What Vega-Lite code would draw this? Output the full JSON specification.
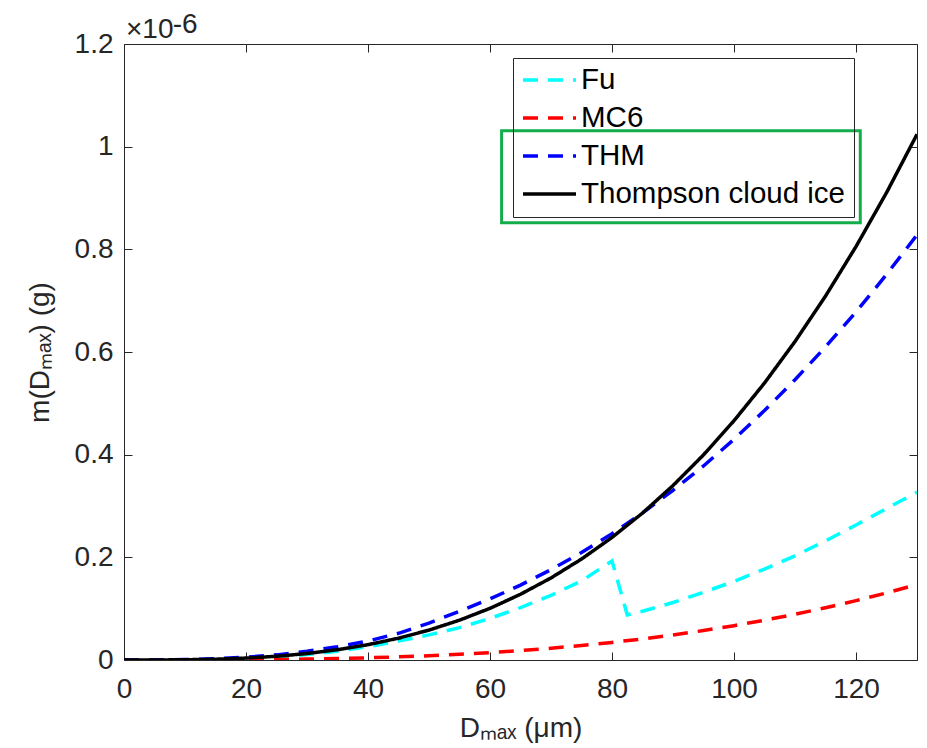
{
  "$schema": "https://vega.github.io/schema/vega-lite/v6.json",
  "width": 793,
  "height": 616,
  "autosize": {"type": "none"},
  "padding": {"left": 124, "top": 44, "right": 10, "bottom": 88},
  "background": "white",
  "title": {
    "text": "×10",
    "subtitle": "\u200d\u00a0\u00a0\u00a0\u00a0\u00a0\u00a0-6",
    "anchor": "start",
    "frame": "group",
    "offset": -19,
    "dx": 2,
    "fontSize": 28,
    "fontWeight": "normal",
    "font": "Liberation Sans",
    "color": "#262626",
    "subtitleFont": "Liberation Sans",
    "subtitleFontSize": 28,
    "subtitleColor": "#262626",
    "subtitlePadding": -33
  },
  "config": {
    "view": {"stroke": "#262626", "strokeWidth": 1},
    "axis": {
      "domain": false,
      "grid": false,
      "tickColor": "#262626",
      "tickSize": -8,
      "tickWidth": 1,
      "labelFont": "Liberation Sans",
      "labelFontSize": 28,
      "labelColor": "#262626",
      "titleFont": "Liberation Sans",
      "titleFontSize": 28,
      "titleFontWeight": "normal",
      "titleColor": "#262626"
    },
    "legend": {
      "orient": "none",
      "legendX": 389,
      "legendY": 14,
      "strokeColor": "#262626",
      "padding": 8,
      "symbolType": "stroke",
      "symbolSize": 2809,
      "symbolStrokeWidth": 3.5,
      "labelFont": "Liberation Sans",
      "labelFontSize": 29.5,
      "labelColor": "#000000",
      "labelOffset": 3,
      "labelLimit": 0,
      "rowPadding": 8,
      "clipHeight": 28
    }
  },
  "resolve": {"axis": {"x": "independent", "y": "independent"}},
  "layer": [
    {
      "data": {
        "values": [
          {"D": 0, "m": 0, "model": "Fu"},
          {"D": 5, "m": 0.00005, "model": "Fu"},
          {"D": 10, "m": 0.0004, "model": "Fu"},
          {"D": 15, "m": 0.0013, "model": "Fu"},
          {"D": 20, "m": 0.003, "model": "Fu"},
          {"D": 25, "m": 0.006, "model": "Fu"},
          {"D": 30, "m": 0.0105, "model": "Fu"},
          {"D": 35, "m": 0.017, "model": "Fu"},
          {"D": 40, "m": 0.026, "model": "Fu"},
          {"D": 45, "m": 0.037, "model": "Fu"},
          {"D": 50, "m": 0.049, "model": "Fu"},
          {"D": 55, "m": 0.063, "model": "Fu"},
          {"D": 60, "m": 0.081, "model": "Fu"},
          {"D": 65, "m": 0.102, "model": "Fu"},
          {"D": 70, "m": 0.126, "model": "Fu"},
          {"D": 75, "m": 0.154, "model": "Fu"},
          {"D": 80, "m": 0.193, "model": "Fu"},
          {"D": 82.5, "m": 0.088, "model": "Fu"},
          {"D": 85, "m": 0.095, "model": "Fu"},
          {"D": 90, "m": 0.112, "model": "Fu"},
          {"D": 95, "m": 0.132, "model": "Fu"},
          {"D": 100, "m": 0.153, "model": "Fu"},
          {"D": 105, "m": 0.177, "model": "Fu"},
          {"D": 110, "m": 0.203, "model": "Fu"},
          {"D": 115, "m": 0.232, "model": "Fu"},
          {"D": 120, "m": 0.263, "model": "Fu"},
          {"D": 125, "m": 0.295, "model": "Fu"},
          {"D": 130, "m": 0.327, "model": "Fu"},

          {"D": 0, "m": 0, "model": "MC6"},
          {"D": 5, "m": 0.0000084, "model": "MC6"},
          {"D": 10, "m": 0.000067, "model": "MC6"},
          {"D": 15, "m": 0.000226, "model": "MC6"},
          {"D": 20, "m": 0.000535, "model": "MC6"},
          {"D": 25, "m": 0.001045, "model": "MC6"},
          {"D": 30, "m": 0.001807, "model": "MC6"},
          {"D": 35, "m": 0.002869, "model": "MC6"},
          {"D": 40, "m": 0.004282, "model": "MC6"},
          {"D": 45, "m": 0.006097, "model": "MC6"},
          {"D": 50, "m": 0.008364, "model": "MC6"},
          {"D": 55, "m": 0.01113, "model": "MC6"},
          {"D": 60, "m": 0.01445, "model": "MC6"},
          {"D": 65, "m": 0.01838, "model": "MC6"},
          {"D": 70, "m": 0.02295, "model": "MC6"},
          {"D": 75, "m": 0.02823, "model": "MC6"},
          {"D": 80, "m": 0.03426, "model": "MC6"},
          {"D": 85, "m": 0.04109, "model": "MC6"},
          {"D": 90, "m": 0.04878, "model": "MC6"},
          {"D": 95, "m": 0.05737, "model": "MC6"},
          {"D": 100, "m": 0.06691, "model": "MC6"},
          {"D": 105, "m": 0.07746, "model": "MC6"},
          {"D": 110, "m": 0.08906, "model": "MC6"},
          {"D": 115, "m": 0.1018, "model": "MC6"},
          {"D": 120, "m": 0.1156, "model": "MC6"},
          {"D": 125, "m": 0.1307, "model": "MC6"},
          {"D": 130, "m": 0.147, "model": "MC6"},

          {"D": 0, "m": 0, "model": "THM"},
          {"D": 5, "m": 0.0001, "model": "THM"},
          {"D": 10, "m": 0.0009, "model": "THM"},
          {"D": 15, "m": 0.0025, "model": "THM"},
          {"D": 20, "m": 0.0055, "model": "THM"},
          {"D": 25, "m": 0.010, "model": "THM"},
          {"D": 30, "m": 0.017, "model": "THM"},
          {"D": 35, "m": 0.026, "model": "THM"},
          {"D": 40, "m": 0.037, "model": "THM"},
          {"D": 45, "m": 0.052, "model": "THM"},
          {"D": 50, "m": 0.072, "model": "THM"},
          {"D": 55, "m": 0.095, "model": "THM"},
          {"D": 60, "m": 0.119, "model": "THM"},
          {"D": 65, "m": 0.146, "model": "THM"},
          {"D": 70, "m": 0.176, "model": "THM"},
          {"D": 75, "m": 0.2095, "model": "THM"},
          {"D": 80, "m": 0.246, "model": "THM"},
          {"D": 85, "m": 0.2865, "model": "THM"},
          {"D": 90, "m": 0.3305, "model": "THM"},
          {"D": 95, "m": 0.378, "model": "THM"},
          {"D": 100, "m": 0.430, "model": "THM"},
          {"D": 105, "m": 0.486, "model": "THM"},
          {"D": 110, "m": 0.546, "model": "THM"},
          {"D": 115, "m": 0.610, "model": "THM"},
          {"D": 120, "m": 0.678, "model": "THM"},
          {"D": 125, "m": 0.751, "model": "THM"},
          {"D": 130, "m": 0.828, "model": "THM"},

          {"D": 0, "m": 0, "model": "Thompson cloud ice"},
          {"D": 5, "m": 0.0000583, "model": "Thompson cloud ice"},
          {"D": 10, "m": 0.000466, "model": "Thompson cloud ice"},
          {"D": 15, "m": 0.00157, "model": "Thompson cloud ice"},
          {"D": 20, "m": 0.00373, "model": "Thompson cloud ice"},
          {"D": 25, "m": 0.00728, "model": "Thompson cloud ice"},
          {"D": 30, "m": 0.01258, "model": "Thompson cloud ice"},
          {"D": 35, "m": 0.01998, "model": "Thompson cloud ice"},
          {"D": 40, "m": 0.02983, "model": "Thompson cloud ice"},
          {"D": 45, "m": 0.04247, "model": "Thompson cloud ice"},
          {"D": 50, "m": 0.05826, "model": "Thompson cloud ice"},
          {"D": 55, "m": 0.07754, "model": "Thompson cloud ice"},
          {"D": 60, "m": 0.10067, "model": "Thompson cloud ice"},
          {"D": 65, "m": 0.128, "model": "Thompson cloud ice"},
          {"D": 70, "m": 0.1599, "model": "Thompson cloud ice"},
          {"D": 75, "m": 0.1966, "model": "Thompson cloud ice"},
          {"D": 80, "m": 0.2387, "model": "Thompson cloud ice"},
          {"D": 85, "m": 0.2862, "model": "Thompson cloud ice"},
          {"D": 90, "m": 0.3398, "model": "Thompson cloud ice"},
          {"D": 95, "m": 0.3996, "model": "Thompson cloud ice"},
          {"D": 100, "m": 0.4661, "model": "Thompson cloud ice"},
          {"D": 105, "m": 0.5396, "model": "Thompson cloud ice"},
          {"D": 110, "m": 0.6204, "model": "Thompson cloud ice"},
          {"D": 115, "m": 0.7089, "model": "Thompson cloud ice"},
          {"D": 120, "m": 0.8054, "model": "Thompson cloud ice"},
          {"D": 125, "m": 0.9103, "model": "Thompson cloud ice"},
          {"D": 130, "m": 1.024, "model": "Thompson cloud ice"}
        ]
      },
      "mark": {"type": "line", "strokeWidth": 3.5, "clip": true},
      "encoding": {
        "x": {
          "field": "D",
          "type": "quantitative",
          "scale": {"domain": [0, 130], "nice": false, "zero": false},
          "axis": {
            "orient": "bottom",
            "values": [0, 20, 40, 60, 80, 100, 120],
            "labelPadding": 23,
            "labelFlush": false,
            "title": "Dₘₐₓ (μm)",
            "titlePadding": 11
          }
        },
        "y": {
          "field": "m",
          "type": "quantitative",
          "scale": {"domain": [0, 1.2], "nice": false},
          "axis": {
            "orient": "left",
            "values": [0, 0.2, 0.4, 0.6, 0.8, 1, 1.2],
            "format": ".1~f",
            "labelPadding": 19,
            "labelFlush": false,
            "title": "m(Dₘₐₓ) (g)",
            "titlePadding": 20
          }
        },
        "color": {
          "field": "model",
          "type": "nominal",
          "scale": {
            "domain": ["Fu", "MC6", "THM", "Thompson cloud ice"],
            "range": ["#00FFFF", "#FF0000", "#0000FF", "#000000"]
          },
          "legend": {"title": null}
        },
        "strokeDash": {
          "field": "model",
          "type": "nominal",
          "scale": {
            "domain": ["Fu", "MC6", "THM", "Thompson cloud ice"],
            "range": [[15, 10], [15, 10], [15, 10], [1, 0]]
          },
          "legend": {"title": null}
        }
      }
    },
    {
      "data": {"values": [{"x1": 61.9, "x2": 120.7, "y1": 1.031, "y2": 0.852}]},
      "mark": {"type": "rect", "filled": false, "stroke": "#13AD4B", "strokeWidth": 3},
      "encoding": {
        "x": {
          "field": "x1",
          "type": "quantitative",
          "axis": {"orient": "top", "values": [0, 20, 40, 60, 80, 100, 120], "labels": false, "title": null}
        },
        "x2": {"field": "x2"},
        "y": {
          "field": "y1",
          "type": "quantitative",
          "axis": {"orient": "right", "values": [0, 0.2, 0.4, 0.6, 0.8, 1, 1.2], "labels": false, "title": null}
        },
        "y2": {"field": "y2"}
      }
    }
  ]
}
